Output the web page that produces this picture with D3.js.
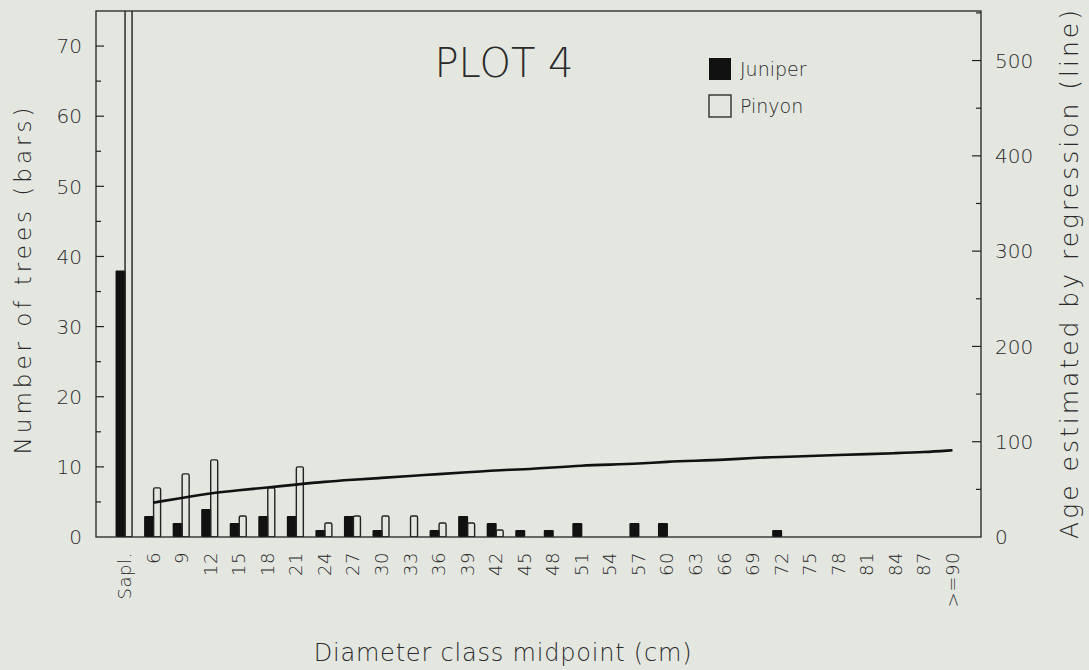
<!DOCTYPE html>
<html>
<head>
<meta charset="utf-8">
<script src="https://cdn.jsdelivr.net/npm/d3@7"></script>
<style>
  body { margin: 0; background: #e3e7df; }
  svg text { font-family: "DejaVu Sans", "Open Sans", sans-serif; font-weight: 200; fill: #2a2a2a; }
</style>
</head>
<body>
<script>
// classi di diametro
var classes = ["Sapl.", "6", "9", "12", "15", "18", "21", "24", "27", "30", "33", "36", "39", "42", "45",
  "48", "51", "54", "57", "60", "63", "66", "69", "72", "75", "78", "81", "84", "87", ">=90"];

// numero di alberi per classe
var juniper = [38, 3, 2, 4, 2, 3, 3, 1, 3, 1, 0, 1, 3, 2, 1, 1, 2, 0, 2, 2, 0, 0, 0, 1, 0, 0, 0, 0, 0, 0];
var pinyon  = [80, 7, 9, 11, 3, 7, 10, 2, 3, 3, 3, 2, 2, 1, 0, 0, 0, 0, 0, 0, 0, 0, 0, 0, 0, 0, 0, 0, 0, 0];

// eta' stimata (linea), a partire dalla classe 6
var age = [null, 36, 41, 46, 49, 52, 55, 58, 60, 62, 64, 66, 68, 70, 71, 73, 75, 76, 77, 79, 80, 81, 83, 84, 85, 86, 87, 88, 89, 91];

var leftTicks = [0, 10, 20, 30, 40, 50, 60, 70];
var rightTicks = [0, 100, 200, 300, 400, 500];

//grandezze
var W = 1089, H = 670;
var margin = {top: 11, left: 96, right: 108, bottom: 133};
var pw = W - margin.left - margin.right;
var ph = H - margin.top - margin.bottom;

var x = d3.scaleBand().domain(classes).range([0, pw]).paddingInner(0).paddingOuter(0.5);
var y = d3.scaleLinear().domain([0, 75]).range([ph, 0]);
var y2 = d3.scaleLinear().domain([0, 552]).range([ph, 0]);

var svg = d3.select("body").append("svg").attr("width", W).attr("height", H);
var g = svg.append("g").attr("transform", "translate(" + margin.left + "," + margin.top + ")");

g.append("clipPath").attr("id", "clip").append("rect").attr("width", pw).attr("height", ph);

var cx = function(i) { return x(classes[i]) + x.bandwidth() / 2; };

// barre
var bars = g.append("g").attr("clip-path", "url(#clip)");
bars.selectAll(".jun").data(juniper).enter().append("rect")
  .attr("class", "jun")
  .attr("x", function(d, i) { return cx(i) - 9; })
  .attr("y", function(d) { return y(d); })
  .attr("width", 10)
  .attr("height", function(d) { return ph - y(d); })
  .attr("fill", "#111")
  .attr("rx", 1);

bars.selectAll(".pin").data(pinyon).enter().append("rect")
  .attr("class", "pin")
  .attr("x", function(d, i) { return cx(i) + 0.5; })
  .attr("y", function(d) { return y(d); })
  .attr("width", 7)
  .attr("height", function(d) { return ph - y(d); })
  .attr("fill", "none")
  .attr("stroke", function(d) { return d > 0 ? "#222" : "none"; })
  .attr("stroke-width", 1.4)
  .attr("rx", 1.5);

// linea di regressione
var line = d3.line()
  .defined(function(d) { return d != null; })
  .x(function(d, i) { return cx(i); })
  .y(function(d) { return y2(d); })
  .curve(d3.curveBasis);
g.append("path").datum(age).attr("d", line)
  .attr("fill", "none").attr("stroke", "#111").attr("stroke-width", 2.6);

// cornice
g.append("rect").attr("width", pw).attr("height", ph)
  .attr("fill", "none").attr("stroke", "#222").attr("stroke-width", 1.3);

// assi (tacche interne)
g.append("g").selectAll("line").data(d3.range(5, 75, 5)).enter().append("line")
  .attr("x1", 0).attr("x2", function(d) { return d % 10 === 0 ? 8 : 5; })
  .attr("y1", function(d) { return y(d); }).attr("y2", function(d) { return y(d); })
  .attr("stroke", "#222").attr("stroke-width", 1.2);
g.append("g").selectAll("text").data(leftTicks).enter().append("text")
  .attr("x", -14).attr("y", function(d) { return y(d); })
  .attr("dy", "0.36em").attr("text-anchor", "end")
  .style("font-size", "20px").text(function(d) { return d; });

g.append("g").selectAll("line").data(d3.range(50, 552, 50)).enter().append("line")
  .attr("x1", pw).attr("x2", function(d) { return d % 100 === 0 ? pw - 9 : pw - 5; })
  .attr("y1", function(d) { return y2(d); }).attr("y2", function(d) { return y2(d); })
  .attr("stroke", "#222").attr("stroke-width", 1.2);
g.append("g").selectAll("text").data(rightTicks).enter().append("text")
  .attr("x", pw + 14).attr("y", function(d) { return y2(d); })
  .attr("dy", "0.36em").attr("text-anchor", "start")
  .style("font-size", "20px").text(function(d) { return d; });

// etichette asse x
g.append("g").selectAll("text").data(classes).enter().append("text")
  .attr("transform", function(d) { return "translate(" + (x(d) + x.bandwidth() / 2) + "," + (ph + 15) + ") rotate(-90)"; })
  .attr("dy", "0.36em").attr("text-anchor", "end")
  .style("font-size", "18px").style("letter-spacing", "0.6px").text(function(d) { return d; });

// titoli
svg.append("text").attr("transform", "translate(31,279) rotate(-90)")
  .attr("text-anchor", "middle")
  .style("font-size", "23px").style("letter-spacing", "4px").text("Number of trees (bars)");
svg.append("text").attr("transform", "translate(1078,273) rotate(-90)")
  .attr("text-anchor", "middle")
  .style("font-size", "25px").style("letter-spacing", "3px").text("Age estimated by regression (line)");
svg.append("text").attr("x", 503).attr("y", 661)
  .attr("text-anchor", "middle")
  .style("font-size", "24px").style("letter-spacing", "0.8px").text("Diameter class midpoint (cm)");
svg.append("text").attr("x", 504).attr("y", 77)
  .attr("text-anchor", "middle")
  .style("font-size", "40px").text("PLOT 4");

// legenda
var legend = svg.append("g").attr("transform", "translate(709,58)");
legend.append("rect").attr("width", 22).attr("height", 22).attr("fill", "#111");
legend.append("text").attr("x", 31).attr("y", 18).style("font-size", "19px").text("Juniper");
legend.append("rect").attr("y", 37).attr("width", 22).attr("height", 22)
  .attr("fill", "none").attr("stroke", "#222").attr("stroke-width", 1.3);
legend.append("text").attr("x", 31).attr("y", 55).style("font-size", "19px").text("Pinyon");
</script>
</body>
</html>
